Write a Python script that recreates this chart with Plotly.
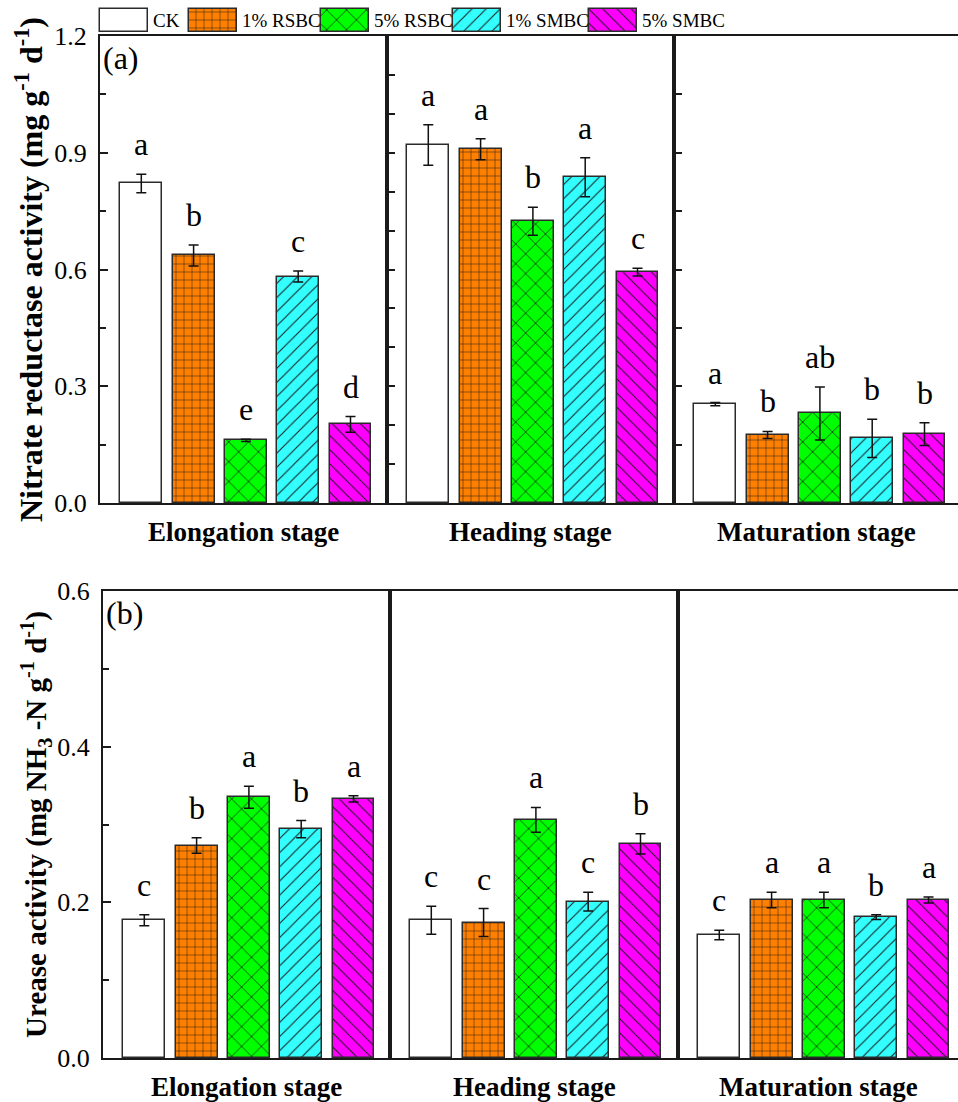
import plotly.graph_objects as go

# ---- data ---------------------------------------------------------------
stages = ["Elongation stage", "Heading stage", "Maturation stage"]
treatments = ["CK", "1% RSBC", "5% RSBC", "1% SMBC", "5% SMBC"]

# Nitrate reductase activity (mg g-1 d-1)
nr_elongation = [0.821, 0.636, 0.161, 0.582, 0.202]
nr_elongation_sd = [0.024, 0.027, 0.003, 0.014, 0.020]
nr_heading = [0.920, 0.909, 0.724, 0.837, 0.593]
nr_heading_sd = [0.052, 0.027, 0.036, 0.050, 0.010]
nr_maturation = [0.254, 0.175, 0.230, 0.166, 0.177]
nr_maturation_sd = [0.004, 0.009, 0.068, 0.049, 0.029]
nr_letters_elongation = ["a", "b", "e", "c", "d"]
nr_letters_heading = ["a", "a", "b", "a", "c"]
nr_letters_maturation = ["a", "b", "ab", "b", "b"]

# Urease activity (mg NH3-N g-1 d-1)
ur_elongation = [0.177, 0.273, 0.335, 0.294, 0.333]
ur_elongation_sd = [0.007, 0.010, 0.014, 0.011, 0.004]
ur_heading = [0.177, 0.174, 0.306, 0.201, 0.275]
ur_heading_sd = [0.018, 0.018, 0.016, 0.012, 0.013]
ur_maturation = [0.158, 0.203, 0.203, 0.181, 0.203]
ur_maturation_sd = [0.006, 0.010, 0.010, 0.003, 0.004]
ur_letters_elongation = ["c", "b", "a", "b", "a"]
ur_letters_heading = ["c", "c", "a", "c", "b"]
ur_letters_maturation = ["c", "a", "a", "b", "a"]

# ---- styles -------------------------------------------------------------
W, H = 958, 1102
SERIF = "Liberation Serif"
EDGE = "#2b2b2b"
AXIS = "#1a1a1a"
FILLS = ["#FFFFFF", "#FF8000", "#00FF00", "#33FFFF", "#FF00FF"]
PATTERNS = [
    dict(shape=""),
    dict(shape="+", size=8, solidity=0.12),
    dict(shape="x", size=14, solidity=0.1),
    dict(shape="/", size=10, solidity=0.1),
    dict(shape="\\", size=10, solidity=0.1),
]
UNIT_PX = 52.3      # pixels per category step
FIRST_PX = 41.3     # first category centre from the panel's left edge


def bar_pattern(t):
    pat = dict(PATTERNS[t])
    if pat["shape"]:
        pat.update(fgcolor="#1a1a1a", bgcolor=FILLS[t], fillmode="replace")
    return pat


rows = [
    dict(top=36, bottom=503, edges=[100, 387, 674, 958],
         means=[nr_elongation, nr_heading, nr_maturation],
         sds=[nr_elongation_sd, nr_heading_sd, nr_maturation_sd],
         letters=[nr_letters_elongation, nr_letters_heading, nr_letters_maturation],
         ymax=1.2, tag="(a)", title_size=32,
         title="<b>Nitrate reductase activity (mg g<sup>-1</sup> d<sup>-1</sup>)</b>",
         ydticks=[dict(dtick=0.3, minor=0.15, labels=True),
                  dict(dtick=0.1, minor=None, labels=False),
                  dict(dtick=0.15, minor=None, labels=False)]),
    dict(top=591, bottom=1058, edges=[103, 390, 678, 958],
         means=[ur_elongation, ur_heading, ur_maturation],
         sds=[ur_elongation_sd, ur_heading_sd, ur_maturation_sd],
         letters=[ur_letters_elongation, ur_letters_heading, ur_letters_maturation],
         ymax=0.6, tag="(b)", title_size=29,
         title="<b>Urease activity (mg NH<sub>3</sub> -N g<sup>-1</sup> d<sup>-1</sup>)</b>",
         ydticks=[dict(dtick=0.2, minor=0.1, labels=True),
                  None, None]),
]

fig = go.Figure()
layout_axes = {}
annotations = []

panel = 0
for r, row in enumerate(rows):
    for s in range(3):
        panel += 1
        xa = "x" if panel == 1 else f"x{panel}"
        ya = "y" if panel == 1 else f"y{panel}"
        left, right = row["edges"][s], row["edges"][s + 1]
        width_px = right - left
        x0 = -FIRST_PX / UNIT_PX
        x1 = x0 + width_px / UNIT_PX

        for t, name in enumerate(treatments):
            fig.add_trace(go.Bar(
                x=[name], y=[row["means"][s][t]],
                error_y=dict(type="data", array=[row["sds"][s][t]], color="#111111",
                             thickness=1.5, width=5),
                marker=dict(color=FILLS[t], pattern=bar_pattern(t),
                            line=dict(color=EDGE, width=1.5)),
                width=0.8, name=name, showlegend=False,
                xaxis=xa, yaxis=ya,
            ))
            annotations.append(dict(
                x=name, y=row["means"][s][t] + row["sds"][s][t],
                xref=xa, yref=ya, text=row["letters"][s][t], showarrow=False,
                yanchor="bottom", yshift=10,
                font=dict(family=SERIF, size=32, color="black"),
            ))

        xkey = "xaxis" if panel == 1 else f"xaxis{panel}"
        ykey = "yaxis" if panel == 1 else f"yaxis{panel}"
        layout_axes[xkey] = dict(
            domain=[left / W, right / W], anchor=ya, type="category",
            categoryorder="array", categoryarray=treatments,
            range=[x0, x1], showticklabels=False, ticks="",
            showline=True, linecolor=AXIS, linewidth=2, mirror=True,
            showgrid=False, zeroline=False, fixedrange=True, automargin=False,
        )
        yax = dict(
            domain=[1 - row["bottom"] / H, 1 - row["top"] / H], anchor=xa,
            range=[0, row["ymax"]], showline=True, linecolor=AXIS,
            linewidth=2, mirror=(s < 2), showgrid=False, zeroline=False,
            fixedrange=True, automargin=False,
        )
        tk = row["ydticks"][s]
        if tk is None:
            yax.update(ticks="", showticklabels=False)
        else:
            yax.update(ticks="inside", tick0=0, dtick=tk["dtick"], ticklen=8,
                       tickwidth=1.5, tickcolor=AXIS,
                       showticklabels=tk["labels"], tickformat=".1f",
                       ticklabelstandoff=6,
                       tickfont=dict(family=SERIF, size=26, color="black"))
            if tk["minor"]:
                yax["minor"] = dict(dtick=tk["minor"], tick0=0, ticks="inside",
                                    ticklen=6, tickwidth=1.5, tickcolor=AXIS)
        if s == 0:
            yax["title"] = dict(text=row["title"], standoff=2,
                                font=dict(family=SERIF, size=row["title_size"],
                                          color="black"))
            annotations.append(dict(
                x=0, y=1, xref=f"{xa} domain", yref=f"{ya} domain",
                text=row["tag"], showarrow=False, xanchor="left", yanchor="top",
                xshift=1, yshift=-2,
                font=dict(family=SERIF, size=32, color="black"),
            ))
        layout_axes[ykey] = yax

        annotations.append(dict(
            x=0.5, y=0, xref=f"{xa} domain", yref=f"{ya} domain",
            text=f"<b>{stages[s]}</b>", showarrow=False, yanchor="top",
            yshift=-12, font=dict(family=SERIF, size=27, color="black"),
        ))

# ---- legend row drawn with keys on its own pixel-scaled axis -------------
LEGEND_KEY_LEFT = [100, 189, 321, 453, 589]
LEGEND_KEY_W = 48
LEGEND_KEY_TOP, LEGEND_KEY_H = 9, 23
LEGEND_H = 36
for t, name in enumerate(treatments):
    fig.add_trace(go.Bar(
        x=[LEGEND_KEY_LEFT[t] + LEGEND_KEY_W / 2], y=[LEGEND_KEY_H],
        base=[LEGEND_KEY_TOP], width=[LEGEND_KEY_W],
        marker=dict(color=FILLS[t], pattern=bar_pattern(t),
                    line=dict(color=EDGE, width=1.5)),
        name=name, showlegend=False, hoverinfo="name",
        xaxis="x7", yaxis="y7",
    ))
    annotations.append(dict(
        x=LEGEND_KEY_LEFT[t] + LEGEND_KEY_W + 3, y=LEGEND_KEY_TOP + LEGEND_KEY_H / 2,
        xref="x7", yref="y7", text=name, showarrow=False,
        xanchor="left", yanchor="middle",
        font=dict(family=SERIF, size=19, color="black"),
    ))
layout_axes["xaxis7"] = dict(domain=[0, 1], anchor="y7", range=[0, W],
                             visible=False, fixedrange=True, automargin=False)
layout_axes["yaxis7"] = dict(domain=[1 - LEGEND_H / H, 1], anchor="x7",
                             range=[LEGEND_H, 0], visible=False, fixedrange=True,
                             automargin=False)

fig.update_layout(
    width=W, height=H,
    margin=dict(l=0, r=0, t=0, b=0, pad=0, autoexpand=False),
    paper_bgcolor="white", plot_bgcolor="rgba(0,0,0,0)",
    barmode="overlay", bargap=0, showlegend=False,
    font=dict(family=SERIF, color="black"),
    annotations=annotations,
    **layout_axes,
)

fig.write_html("out.html")
